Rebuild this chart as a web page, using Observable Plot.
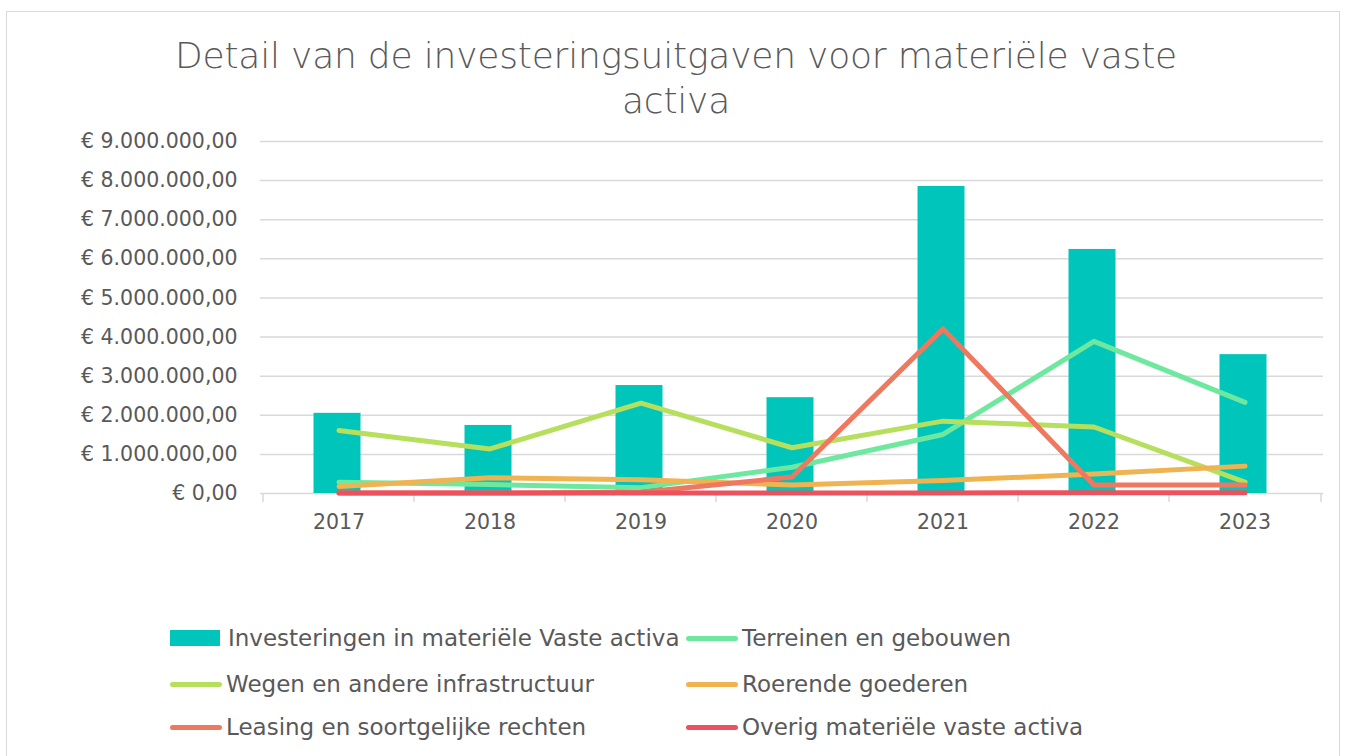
<!DOCTYPE html>
<html><head><meta charset="utf-8">
<script src="https://cdn.jsdelivr.net/npm/d3@7"></script>
<script src="https://cdn.jsdelivr.net/npm/@observablehq/plot@0.6"></script>
<style>
body{margin:0;background:#fff;font-family:"DejaVu Sans",sans-serif;color:#595959}
#wrap{position:relative;width:1349px;height:756px;overflow:hidden;background:#fff}
#frame{position:absolute;left:6px;top:11px;width:1334px;height:820px;border:1.5px solid #d9d9d9;box-sizing:border-box}
#title{position:absolute;left:0;top:33px;width:1352px;text-align:center;font-size:36px;line-height:45px;font-weight:200;color:#595959;letter-spacing:-0.2px}
#chart{position:absolute;left:0;top:0}
.leg{position:absolute;display:flex;align-items:center;font-size:23px;color:#595959;white-space:nowrap}
.sw{display:inline-block;margin-right:6px}
</style>
</head><body>
<div id="wrap">
<div id="frame"></div>
<div id="title">Detail van de investeringsuitgaven voor materiële vaste<br>activa</div>
<div id="chart"></div>
<div id="legend"></div>
</div>
<script>
const years = ["2017","2018","2019","2020","2021","2022","2023"];
const barName = "Investeringen in materiële Vaste activa";
const barValues = [2050000, 1740000, 2760000, 2450000, 7850000, 6240000, 3550000];
const lineNames = ["Terreinen en gebouwen","Wegen en andere infrastructuur","Roerende goederen","Leasing en soortgelijke rechten","Overig materiële vaste activa"];
const terreinen = [290000, 230000, 150000, 670000, 1510000, 3890000, 2330000];
const wegen = [1610000, 1140000, 2310000, 1170000, 1850000, 1700000, 290000];
const roerende = [180000, 400000, 350000, 220000, 330000, 500000, 700000];
const leasing = [10000, 10000, 30000, 420000, 4210000, 220000, 220000];
const overig = [10000, 10000, 10000, 15000, 15000, 20000, 20000];
const lineValues = [terreinen, wegen, roerende, leasing, overig];
const barColor = "#00C5BB";
const lineColors = ["#6EE89F","#B5DF5C","#EFB352","#EF7860","#EB525E"];
const yTicks = [0,1e6,2e6,3e6,4e6,5e6,6e6,7e6,8e6,9e6];

const bars = years.map((y,i)=>({year:y, value:barValues[i]}));
const lines = lineNames.flatMap((n,k)=>years.map((y,i)=>({series:n, year:y, value:lineValues[k][i]})));

const loc = d3.formatLocale({decimal:",", thousands:".", grouping:[3], currency:["€ ",""]});
const fmt = loc.format("$,.2f");

const chart = Plot.plot({
  width:1349, height:560,
  marginTop:141, marginBottom:67, marginLeft:260, marginRight:26,
  style:{fontFamily:"DejaVu Sans, sans-serif", fontSize:"18px", color:"#595959", background:"transparent"},
  x:{type:"band", domain:years, paddingInner:0.69, paddingOuter:0.345, label:null},
  y:{domain:[0,9e6], label:null},
  color:{domain:lineNames, range:lineColors},
  marks:[
    Plot.ruleY(yTicks, {stroke:"#d9d9d9", strokeWidth:1.5}),
    Plot.ruleX(years, {x:d=>d, y1:0, y2:0, stroke:"#d9d9d9", strokeWidth:1.5, insetBottom:-9, dx:-76}),
    Plot.ruleX(years.slice(-1), {x:d=>d, stroke:"#d9d9d9", strokeWidth:1.5, dx:76, y1:0, y2:0, insetBottom:-9}),
    Plot.barY(bars, {x:"year", y:"value", fill:barColor, dx:-1.5}),
    Plot.lineY(lines, {x:"year", y:"value", z:"series", stroke:"series", strokeWidth:5, strokeLinecap:"round", strokeLinejoin:"round"}),
    Plot.axisY({ticks:yTicks, tickFormat:fmt, tickSize:0, tickPadding:23, fill:"#595959", fontSize:20.5}),
    Plot.axisX({tickSize:0, tickPadding:21, fill:"#595959", fontSize:20.5})
  ]
});
document.getElementById("chart").appendChild(chart);

// legend
const legend = document.getElementById("legend");
const entries = [{name:barName, color:barColor, bar:true}].concat(lineNames.map((n,i)=>({name:n, color:lineColors[i]})));
const cols = [170, 686];
const rows = [638, 684, 727];
entries.forEach((e,i)=>{
  const d = document.createElement("div");
  d.className = "leg";
  d.style.left = cols[i%2] + "px";
  d.style.top = (rows[Math.floor(i/2)] - 14) + "px";
  d.style.height = "28px";
  const sw = document.createElement("span");
  sw.className = "sw";
  if (e.bar) { sw.style.width="50px"; sw.style.height="16px"; sw.style.background=e.color; sw.style.marginRight="8px"; }
  else { sw.style.width="52px"; sw.style.height="5px"; sw.style.borderRadius="3px"; sw.style.background=e.color; sw.style.marginRight="4px"; }
  d.appendChild(sw);
  const t = document.createElement("span");
  t.textContent = e.name;
  d.appendChild(t);
  legend.appendChild(d);
});
</script>
</body></html>
